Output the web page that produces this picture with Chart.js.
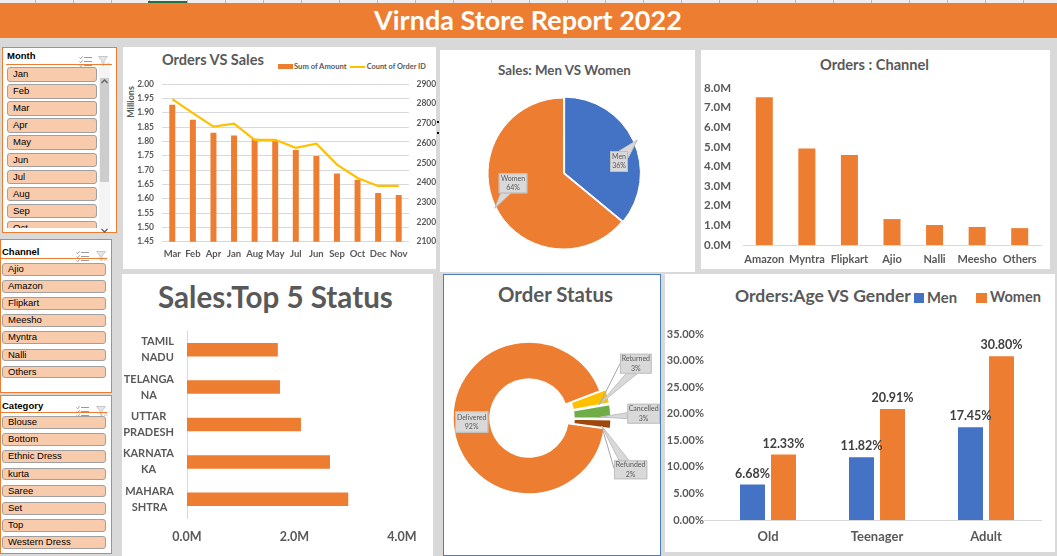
<!DOCTYPE html>
<html>
<head>
<meta charset="utf-8">
<title>Virnda Store Report 2022</title>
<script src="https://cdn.jsdelivr.net/npm/chart.js@4.4.1/dist/chart.umd.min.js"></script>
<style>
html,body{margin:0;padding:0}
body{width:1057px;height:556px;position:relative;overflow:hidden;background:#D9D9D9;font-family:Lato,"Open Sans",sans-serif}
.a{position:absolute}
.panel{position:absolute;background:#fff}
.txt{position:absolute;white-space:nowrap;font-weight:700;color:#595959;line-height:1}
canvas{position:absolute;display:block}
.slicer{position:absolute;background:#fff;border:1px solid #ED7D31;box-sizing:border-box}
.sl-head{position:absolute;font-family:"Liberation Sans",Arial,sans-serif;font-weight:700;font-size:9.5px;color:#000;line-height:1;white-space:nowrap}
.sl-rule{position:absolute;height:1px;background:#ED7D31}
.sl-item{position:absolute;box-sizing:border-box;background:#F8CBAD;border:1px solid #A0A0A0;border-radius:3px;font-family:"Liberation Sans",Arial,sans-serif;font-size:9.5px;color:#000;padding-left:5px;white-space:nowrap;overflow:hidden}
</style>
</head>
<body>
<script>
// ================= DATA =================
const monthLabels = ['Mar','Feb','Apr','Jan','Aug','May','Jul','Jun','Sep','Oct','Dec','Nov'];
const salesAmountMillions = [1.928,1.875,1.830,1.820,1.809,1.800,1.770,1.749,1.688,1.666,1.620,1.613];
const orderCount = [2823,2752,2684,2699,2617,2617,2576,2597,2491,2423,2383,2383];
const salesSeriesNames = ['Sum of Amount','Count of Order ID'];
const salesTicks = [1.45,1.50,1.55,1.60,1.65,1.70,1.75,1.80,1.85,1.90,1.95,2.00];
const orderTicks = [2100,2200,2300,2400,2500,2600,2700,2800,2900];

const genderLabels = ['Men','Women'];
const genderSales = [36,64];

const channelLabels = ['Amazon','Myntra','Flipkart','Ajio','Nalli','Meesho','Others'];
const channelOrdersM = [7.53,4.92,4.58,1.32,1.02,0.92,0.86];
const channelTicks = [0,1,2,3,4,5,6,7,8];

const stateLabels = [['TAMIL','NADU'],['TELANGA','NA'],['UTTAR','PRADESH'],['KARNATA','KA'],['MAHARA','SHTRA']];
const stateSalesM = [1.69,1.73,2.12,2.66,3.00];
const stateTicks = [0,2,4];

const statusLabels = ['Delivered','Returned','Cancelled','Refunded'];
const statusShare = [92,3,3,2];

const ageGroups = ['Old','Teenager','Adult'];
const ageSeriesNames = ['Men','Women'];
const menPct = [6.68,11.82,17.45];
const womenPct = [12.33,20.91,30.80];
const ageTicks = [0,5,10,15,20,25,30,35];

const slicerMonths = ['Jan','Feb','Mar','Apr','May','Jun','Jul','Aug','Sep','Oct','Nov','Dec'];
const slicerChannels = ['Ajio','Amazon','Flipkart','Meesho','Myntra','Nalli','Others'];
const slicerCategories = ['Blouse','Bottom','Ethnic Dress','kurta','Saree','Set','Top','Western Dress'];

// ================= HELPERS =================
const B = document.body;
function div(cls, css, html){
  const d = document.createElement('div');
  if (cls) d.className = cls;
  Object.assign(d.style, css || {});
  if (html !== undefined) d.innerHTML = html;
  B.appendChild(d);
  return d;
}
function px(v){ return v + 'px'; }
function addText(t, o){
  const el = document.createElement('div');
  el.className = 'txt';
  el.textContent = t;
  el.style.fontSize = '100px';
  if (o.color) el.style.color = o.color;
  B.appendChild(el);
  const w100 = el.getBoundingClientRect().width;
  const fs = 100 * o.w / w100;
  el.style.fontSize = px(fs);
  el.style.left = px(o.l);
  el.style.top = px(o.cy - 0.529 * fs);
  return el;
}
function makeCanvas(l, t, w, h){
  const c = document.createElement('canvas');
  c.width = w; c.height = h;
  c.style.left = px(l); c.style.top = px(t);
  c.style.width = px(w); c.style.height = px(h);
  B.appendChild(c);
  return c;
}
const fixW = w => s => { s.width = w; };
const fixH = h => s => { s.height = h; };
const useTicks = arr => s => { s.ticks = arr.map(v => ({value: v})); };

// ================= BACKGROUND / HEADER =================
div('a', {left:'0px', top:'0px', width:'1057px', height:'3px', background:'#EEEEEE'});
for (let x = 35; x < 1057; x += 38) div('a', {left:px(x), top:'0px', width:'1px', height:'3px', background:'#B8B8B8'});
div('a', {left:'148px', top:'1px', width:'39px', height:'2px', background:'#217346'});
div('a', {left:'0px', top:'3px', width:'1057px', height:'35px', background:'#ED7D31'});
addText('Virnda Store Report 2022', {l:374, w:308, cy:20.5, color:'#FFFFFF'});

// panels
div('panel', {left:'123px', top:'47px', width:'313px', height:'222px'});
div('panel', {left:'440px', top:'50px', width:'255px', height:'222px'});
div('panel', {left:'701px', top:'50px', width:'349px', height:'219px'});
div('panel', {left:'122px', top:'274px', width:'311px', height:'282px'});
div('panel', {left:'443px', top:'274px', width:'218px', height:'282px', border:'1px solid #4A7EBB', boxSizing:'border-box'});
div('panel', {left:'665px', top:'274px', width:'390px', height:'278px'});
div('a', {left:'437px', top:'121px', width:'2px', height:'2px', background:'#000'});
div('a', {left:'437px', top:'132px', width:'2px', height:'2px', background:'#000'});

// ================= SLICERS =================
const multiIcon = '<svg width="13" height="11" viewBox="0 0 13 11"><g fill="none" stroke="#9a9a9a" stroke-width="1"><path d="M5 1.5h8M5 5.5h8M5 9.5h8"/><path d="M0.5 1.5l1.2 1.2L3.6 0.3M0.5 5.5l1.2 1.2L3.6 4.3M0.5 9.5l1.2 1.2L3.6 8.3"/></g></svg>';
const clearIcon = '<svg width="12" height="11" viewBox="0 0 12 11"><path d="M0.5 0.5h9l-3.5 4.5v5l-2-1.5v-3.5z" fill="#e6e6e6" stroke="#c8c8c8"/><path d="M8 6.5l3.5 3.5M11.5 6.5L8 10" stroke="#d0d0d0" fill="none"/></svg>';

function slicer(cfg){
  div('slicer', {left:px(cfg.box[0]), top:px(cfg.box[1]), width:px(cfg.box[2]), height:px(cfg.box[3])});
  const h = div('sl-head', {left:px(cfg.headX), top:px(cfg.headCy - 4.8)}); h.textContent = cfg.title;
  div('a', {left:px(cfg.icons[0]), top:px(cfg.headCy - 5.5)}, multiIcon);
  div('a', {left:px(cfg.icons[1]), top:px(cfg.headCy - 5.5)}, clearIcon);
  div('sl-rule', {left:px(cfg.rule[0]), top:px(cfg.rule[1]), width:px(cfg.rule[2])});
  const clip = div('a', {left:px(cfg.list[0]), top:px(cfg.list[1]), width:px(cfg.list[2]), height:px(cfg.list[3]), overflow:'hidden'});
  cfg.items.forEach((name, i) => {
    const it = document.createElement('div');
    it.className = 'sl-item';
    Object.assign(it.style, {left:'1px', top:px(i * cfg.step), width:px(cfg.list[2] - 2), height:px(cfg.itemH), lineHeight:px(cfg.itemH - 2)});
    it.textContent = name;
    clip.appendChild(it);
  });
}
slicer({title:'Month', box:[2,47,115,186], headX:7, headCy:56, icons:[79,98], rule:[6,64,106], list:[6,67,92,161], step:17.1, itemH:14.5, items:slicerMonths});
// scrollbar
div('a', {left:'99px', top:'67px', width:'11px', height:'162px', background:'#F4F4F4'});
div('a', {left:'100px', top:'78px', width:'9px', height:'104px', background:'#CDCDCD'});
div('a', {left:'100px', top:'69px'}, '<svg width="9" height="8"><path d="M1.5 6l3-3 3 3" fill="none" stroke="#606060" stroke-width="1.3"/></svg>');
div('a', {left:'100px', top:'219px'}, '<svg width="9" height="8"><path d="M1.5 2l3 3 3-3" fill="none" stroke="#606060" stroke-width="1.3"/></svg>');

slicer({title:'Channel', box:[0,239,112,154], headX:2, headCy:251.5, icons:[76,96], rule:[1,258,106], list:[1,263,106,125], step:17.1, itemH:12.5, items:slicerChannels});
slicer({title:'Category', box:[0,395,112,159], headX:2, headCy:406, icons:[76,96], rule:[1,412,106], list:[1,416,106,136], step:17.2, itemH:12.5, items:slicerCategories});

// ================= TITLES / LEGENDS =================
addText('Orders VS Sales', {l:162, w:102, cy:60.5});
div('a', {left:'278px', top:'64px', width:'15px', height:'5px', background:'#ED7D31'});
addText(salesSeriesNames[0], {l:294, w:52.7, cy:66.7});
div('a', {left:'350px', top:'65.5px', width:'15px', height:'2px', background:'#FFC000'});
addText(salesSeriesNames[1], {l:366.7, w:59.3, cy:66.7});
const mil = div('txt', {left:'130px', top:'102px', fontSize:'9px', transform:'translate(-50%,-50%) rotate(-90deg)'}); mil.textContent = 'Millions';

addText('Sales: Men VS Women', {l:498, w:133, cy:71});
addText('Orders : Channel', {l:820, w:109, cy:65.5});
addText('Sales:Top 5 Status', {l:158, w:235, cy:298});
addText('Order Status', {l:498, w:115, cy:294.5});
addText('Orders:Age VS Gender', {l:735, w:176, cy:296});
div('a', {left:'914px', top:'293px', width:'10px', height:'10px', background:'#4472C4'});
addText(ageSeriesNames[0], {l:927, w:30, cy:297.7});
div('a', {left:'976px', top:'293px', width:'11px', height:'10px', background:'#ED7D31'});
addText(ageSeriesNames[1], {l:990, w:51, cy:297.7});

// ================= CHART.JS =================
Chart.defaults.font.family = "Lato, 'Open Sans', sans-serif";
Chart.defaults.color = '#595959';
const GRAY = '#595959';
const baseOpts = {responsive:false, animation:false, devicePixelRatio:1};
const noPlug = {legend:{display:false}, tooltip:{enabled:false}};

const calloutPlugin = {
  id:'callouts',
  afterDatasetsDraw(chart, args, opts){
    const meta = chart.getDatasetMeta(0);
    const ds = chart.data.datasets[0];
    const ctx = chart.ctx;
    const cx = meta.data[0].x, cy = meta.data[0].y;
    opts.items.forEach(it => {
      const i = it.index;
      const lines = [chart.data.labels[i], ds.data[i] + '%'];
      const bx = cx + it.box[0], by = cy + it.box[1], bw = it.box[2], bh = it.box[3];
      ctx.save();
      ctx.lineWidth = 1;
      if (it.tip){
        const tx = cx + it.tip[0], ty = cy + it.tip[1];
        if (it.line){
          ctx.strokeStyle = '#A6A6A6';
          ctx.beginPath(); ctx.moveTo(bx + it.line[0], by + it.line[1]); ctx.lineTo(tx, ty); ctx.stroke();
        }
        if (it.base){
          ctx.fillStyle = '#D9D9D9'; ctx.strokeStyle = '#BFBFBF';
          ctx.beginPath();
          ctx.moveTo(bx + it.base[0][0], by + it.base[0][1]);
          ctx.lineTo(tx, ty);
          ctx.lineTo(bx + it.base[1][0], by + it.base[1][1]);
          ctx.closePath(); ctx.fill(); ctx.stroke();
        }
      }
      ctx.fillStyle = '#D9D9D9';
      ctx.fillRect(bx, by, bw, bh);
      ctx.strokeStyle = '#BFBFBF';
      ctx.strokeRect(bx + 0.5, by + 0.5, bw - 1, bh - 1);
      ctx.fillStyle = GRAY;
      ctx.font = '7px Lato, sans-serif';
      ctx.textAlign = 'center'; ctx.textBaseline = 'middle';
      ctx.fillText(lines[0], bx + bw / 2, by + bh / 2 - 4.6);
      ctx.fillText(lines[1], bx + bw / 2, by + bh / 2 + 4.6);
      ctx.restore();
    });
  }
};

const barValueLabels = {
  id:'barValueLabels',
  afterDatasetsDraw(chart){
    const ctx = chart.ctx;
    ctx.save();
    ctx.font = 'bold 12.5px Lato, sans-serif';
    ctx.fillStyle = '#404040';
    ctx.textAlign = 'center'; ctx.textBaseline = 'middle';
    chart.data.datasets.forEach((ds, di) => {
      chart.getDatasetMeta(di).data.forEach((bar, i) => {
        ctx.fillText(ds.data[i].toFixed(2) + '%', bar.x, bar.y - 11);
      });
    });
    ctx.restore();
  }
};

const baselinePlugin = {
  id:'baseline',
  afterDatasetsDraw(chart, args, opts){
    const ctx = chart.ctx, a = chart.chartArea;
    const y = Math.round(chart.scales.y.getPixelForValue(0)) + 0.5;
    ctx.save();
    ctx.strokeStyle = '#D9D9D9'; ctx.lineWidth = 1;
    ctx.beginPath(); ctx.moveTo(a.left - opts.extendLeft, y); ctx.lineTo(a.right + opts.extendRight, y); ctx.stroke();
    ctx.restore();
  }
};

// multi-line category labels: each label block right-aligned, its lines centred within the block
const blockLabels = {
  id:'blockLabels',
  afterDraw(chart, args, opts){
    const ctx = chart.ctx, sc = chart.scales.y;
    ctx.save();
    ctx.font = opts.font;
    ctx.fillStyle = GRAY;
    ctx.textAlign = 'center'; ctx.textBaseline = 'middle';
    chart.data.labels.forEach((lab, i) => {
      const lines = Array.isArray(lab) ? lab : [lab];
      const w = Math.max(...lines.map(s => ctx.measureText(s).width));
      const xc = chart.chartArea.left - opts.gap - w / 2;
      const yc = sc.getPixelForTick(i);
      lines.forEach((s, k) => ctx.fillText(s, xc, yc + (k - (lines.length - 1) / 2) * opts.lineH));
    });
    ctx.restore();
  }
};

// --- Orders VS Sales ---
new Chart(makeCanvas(123, 47, 313, 222), {
  type:'bar',
  data:{
    labels: monthLabels,
    datasets:[
      {type:'line', label:salesSeriesNames[1], data:orderCount, yAxisID:'y1', borderColor:'#FFC000', borderWidth:2.2, pointRadius:0, tension:0, order:0},
      {type:'bar', label:salesSeriesNames[0], data:salesAmountMillions, yAxisID:'y', backgroundColor:'#ED7D31', barPercentage:0.29, categoryPercentage:1, order:1}
    ]
  },
  options:Object.assign({}, baseOpts, {
    layout:{padding:{top:37, left:0, right:0, bottom:0}},
    plugins:noPlug,
    scales:{
      x:{grid:{display:false, drawTicks:false}, border:{display:false},
         ticks:{font:{size:9.5, weight:'bold'}, color:GRAY, padding:7, maxRotation:0, autoSkip:false},
         afterFit:fixH(27.3)},
      y:{position:'left', min:1.45, max:2.0, afterBuildTicks:useTicks(salesTicks),
         ticks:{callback:v => Number(v).toFixed(2), font:{size:8.5, weight:'bold'}, color:GRAY, padding:8},
         grid:{color:'#D9D9D9', drawTicks:false}, border:{display:false}, afterFit:fixW(39)},
      y1:{position:'right', min:2100, max:2900, afterBuildTicks:useTicks(orderTicks),
         ticks:{callback:v => String(v), font:{size:8.5, weight:'bold'}, color:GRAY, padding:7.5},
         grid:{drawOnChartArea:false, drawTicks:false}, border:{display:false}, afterFit:fixW(27)}
    }
  })
});

// --- Sales: Men VS Women ---
new Chart(makeCanvas(464, 74, 199, 199), {
  type:'pie',
  data:{labels:genderLabels, datasets:[{data:genderSales, backgroundColor:['#4472C4','#ED7D31'], borderColor:'#FFFFFF', borderWidth:1, offset:[5,0], radius:75.5, rotation:0, clip:false}]},
  options:Object.assign({}, baseOpts, {
    radius:75.5, rotation:0,
    layout:{padding:0},
    plugins:{legend:{display:false}, tooltip:{enabled:false},
      callouts:{items:[
        {index:0, box:[46.5,-22.5,18,21], tip:[73.8,-33.5], base:[[9,0],[18,7]]},
        {index:1, box:[-64.8,-0.2,28.6,20], tip:[-68.8,34.8], base:[[2,20],[12,20]]}
      ]}}
  }),
  plugins:[calloutPlugin]
});

// --- Orders : Channel ---
new Chart(makeCanvas(701, 50, 349, 219), {
  type:'bar',
  data:{labels:channelLabels, datasets:[{data:channelOrdersM, backgroundColor:'#ED7D31', barPercentage:0.4, categoryPercentage:1}]},
  options:Object.assign({}, baseOpts, {
    layout:{padding:{top:38, right:9, left:0, bottom:0}},
    plugins:noPlug,
    scales:{
      x:{grid:{display:false, drawTicks:false}, border:{display:true, color:'#D9D9D9'},
         ticks:{font:{size:11, weight:'bold'}, color:GRAY, padding:7.5, autoSkip:false, maxRotation:0},
         afterFit:fixH(24)},
      y:{min:0, max:8, afterBuildTicks:useTicks(channelTicks),
         ticks:{callback:v => Number(v).toFixed(1) + 'M', font:{size:11.5, weight:'bold'}, color:GRAY, padding:12},
         grid:{display:false, drawTicks:false}, border:{display:false}, afterFit:fixW(42)}
    }
  })
});

// --- Sales: Top 5 Status ---
new Chart(makeCanvas(122, 274, 311, 282), {
  type:'bar',
  data:{labels:stateLabels, datasets:[{data:stateSalesM, backgroundColor:'#ED7D31', barPercentage:0.36, categoryPercentage:1}]},
  options:Object.assign({}, baseOpts, {
    indexAxis:'y',
    layout:{padding:{top:57, right:31, left:0, bottom:0}},
    plugins:{legend:{display:false}, tooltip:{enabled:false}, blockLabels:{font:"bold 11px Lato, sans-serif", gap:13, lineH:16}},
    scales:{
      x:{min:0, max:4, afterBuildTicks:useTicks(stateTicks),
         ticks:{callback:v => Number(v).toFixed(1) + 'M', font:{size:12.5, weight:'bold'}, color:GRAY, padding:11.5, maxRotation:0},
         grid:{display:false, drawTicks:false}, border:{display:false}, afterFit:fixH(38)},
      y:{grid:{display:false, drawTicks:false}, border:{display:true, color:'#D9D9D9'},
         ticks:{display:false}, afterFit:fixW(65)}
    }
  }),
  plugins:[blockLabels]
});

// --- Order Status ---
new Chart(makeCanvas(429, 318, 232, 200), {
  type:'doughnut',
  data:{labels:statusLabels, datasets:[{data:statusShare, backgroundColor:['#ED7D31','#FFC000','#70AD47','#9E480E'], borderColor:'#FFFFFF', borderWidth:1.5, offset:[0,13,13,13], radius:76, cutout:'51.3%', rotation:98, clip:false}]},
  options:Object.assign({}, baseOpts, {
    radius:76, cutout:'51.3%', rotation:98,
    layout:{padding:{left:0, right:32, top:0, bottom:0}},
    plugins:{legend:{display:false}, tooltip:{enabled:false},
      callouts:{items:[
        {index:0, box:[-74,-6.7,33.3,21.4]},
        {index:1, box:[91,-64.3,31.7,20], tip:[70.3,-13.3], base:[[6,20],[17,20]], line:[0,10]},
        {index:2, box:[98.3,-14.3,32.7,20], tip:[71.7,-1], base:[[0,9],[0,15]]},
        {index:3, box:[85,42.3,33.3,19], tip:[72.7,8], base:[[5,0],[15,0]], line:[0,8]}
      ]}}
  }),
  plugins:[calloutPlugin]
});

// --- Orders: Age VS Gender ---
new Chart(makeCanvas(665, 274, 390, 278), {
  type:'bar',
  data:{labels:ageGroups, datasets:[
    {label:ageSeriesNames[0], data:menPct, backgroundColor:'#4472C4', barPercentage:0.806, categoryPercentage:0.569},
    {label:ageSeriesNames[1], data:womenPct, backgroundColor:'#ED7D31', barPercentage:0.806, categoryPercentage:0.569}
  ]},
  options:Object.assign({}, baseOpts, {
    layout:{padding:{top:60, right:14.5, left:0, bottom:0}},
    plugins:{legend:{display:false}, tooltip:{enabled:false}, baseline:{extendLeft:9.5, extendRight:1.5}},
    scales:{
      x:{grid:{display:false, drawTicks:false}, border:{display:false},
         ticks:{font:{size:13, weight:'bold'}, color:GRAY, padding:9, autoSkip:false, maxRotation:0},
         afterFit:fixH(32)},
      y:{min:0, max:35, afterBuildTicks:useTicks(ageTicks),
         ticks:{callback:v => Number(v).toFixed(2) + '%', font:{size:11, weight:'bold'}, color:GRAY, padding:9.5},
         grid:{display:false, drawTicks:false}, border:{display:false}, afterFit:fixW(48.5)}
    }
  }),
  plugins:[barValueLabels, baselinePlugin]
});
</script>
</body>
</html>
